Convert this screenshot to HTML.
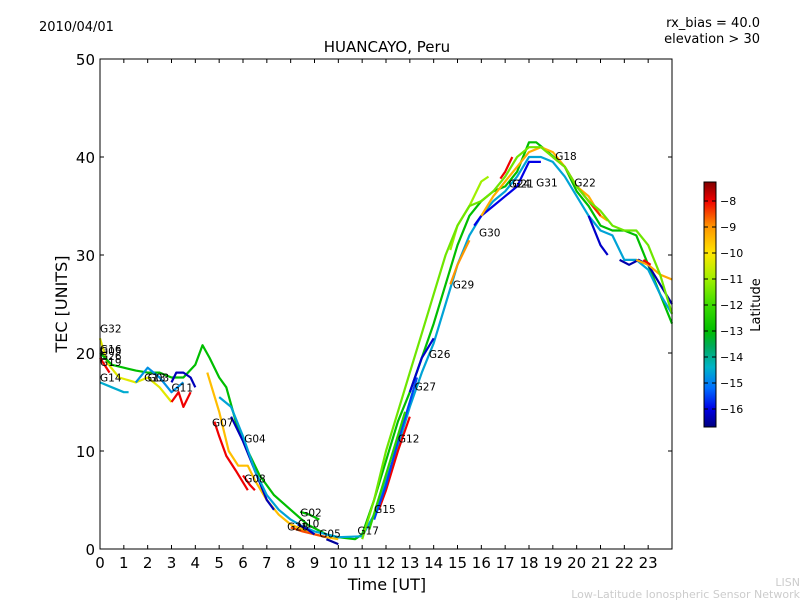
<!DOCTYPE html>
<html><head><meta charset="utf-8">
<style>
body{margin:0;background:#fff;}
svg{display:block;font-family:"DejaVu Sans","Liberation Sans",sans-serif;}
</style></head>
<body>
<svg id="chart" width="800" height="600" viewBox="0 0 800 600">
<defs>
<linearGradient id="jet" x1="0" y1="1" x2="0" y2="0"></linearGradient>
</defs>
<text x="39" y="31" font-size="13">2010/04/01</text>
<text x="760" y="27" font-size="13" text-anchor="end">rx_bias = 40.0</text>
<text x="760" y="43" font-size="13" text-anchor="end">elevation &gt; 30</text>
<text x="387" y="52" font-size="15" text-anchor="middle">HUANCAYO, Peru</text>
<g id="tracks"></g>
<g id="labels"></g>
<rect x="100" y="59" width="572" height="490" fill="none" stroke="#000" stroke-width="1"/>
<g id="axes"></g>
<text x="387" y="590" font-size="16" text-anchor="middle">Time [UT]</text>
<text transform="translate(67,304) rotate(-90)" font-size="16" text-anchor="middle">TEC [UNITS]</text>
<rect x="704" y="182" width="12" height="245" fill="url(#jet)" stroke="#000" stroke-width="1"/>
<g id="cbar"></g>
<text transform="translate(760,305) rotate(-90)" font-size="13" text-anchor="middle">Latitude</text>
<text x="800" y="586" font-size="11" fill="#ccc" text-anchor="end">LISN</text>
<text x="800" y="598" font-size="11" fill="#ccc" text-anchor="end">Low-Latitude Ionospheric Sensor Network</text>
</svg>
<script>
const xTicks=[0,1,2,3,4,5,6,7,8,9,10,11,12,13,14,15,16,17,18,19,20,21,22,23];
const yTicks=[0,10,20,30,40,50];
const cbTicks=[-8,-9,-10,-11,-12,-13,-14,-15,-16];
const trackLats=[-10.3,-13.0,-8,-14.5,-14.8,-16.3,-8,-8,-9.5,-16.3,-14.6,-8,-13.0,-8.5,-16.3,-16.5,-8,-15.5,-16.2,-9,-11,-16,-8,-9.3,-8.3,-16.2,-16.4,-9.2,-8,-11.5,-12.3];
const trackTimes=[
[0,0.3,0.8,1.5,2,2.5,3],
[0,0.5,1,1.5,2,2.5,3,3.5,4,4.3,4.6,5,5.3,5.7,6.2,6.7,7.3,8,8.7,9.5,10,10.7,11,11.5,12,12.5,13,13.5,14,14.5,15,15.5,16,16.5,17,17.5,18,18.3,18.8,19.5,20,20.5,21,21.5,22,22.5,23,23.5,24],
[0,0.4],
[0,0.5,1,1.2],
[1.5,2,2.5,3,3.5],
[3,3.2,3.5,3.8,4],
[3,3.3,3.5,3.8],
[4.8,5,5.3,5.7,6.2],
[4.5,5,5.4,5.8,6.2,6.5,7,7.5,8,8.5,9,9.5,10],
[5.5,6,6.5,7,7.3],
[5,5.5,6,6.5,7,7.5,8,8.5,9,10,11,11.5,12,12.5,13,13.5,14,14.5,15,15.5,16,16.5,17,17.5,18,18.5,19,19.5,20,20.5,21,21.5,22,22.5,23,23.5,24],
[6,6.3,6.5],
[8.4,8.8,9.2],
[8,8.5,9,9.5],
[8.3,8.7,9],
[9.5,10],
[11.7,12,12.5,13],
[11.5,12,12.5,13,13.3],
[13,13.5,14],
[14.7,15,15.5],
[14.7,15,15.5,16,16.3],
[15.7,16,16.5,17,17.5,18,18.5],
[16.8,17,17.3],
[16,16.5,17,17.5,18,18.5,19,19.5,20,20.5,21,21.3],
[19,19.5,20,20.5,21],
[20.5,21,21.3],
[21.8,22.2,22.6,23,23.5,24],
[22.5,23,23.5,24],
[22.8,23.1],
[11,11.5,12,12.5,13,13.5,14,14.5,15,15.5,16,16.5,17,17.5,18,18.5,19,19.5,20,20.5,21,21.5,22,22.5,23,23.5,24],
[11.3,11.8,12.3,12.8]
];
const trackTec=[
[21.5,19,17.5,17,17.5,16.5,15],
[20,18.8,18.5,18.2,18,18,17.5,17.5,18.8,20.8,19.5,17.5,16.5,13,10,7.5,5.5,4,2.5,1.5,1.2,1,1.5,5,9,13,16,19.5,23,27,31,34,35.5,36.5,37,38.5,41.5,41.5,40.5,39,36.5,35,33,32.5,32.5,32,29,26,23],
[19.5,18],
[17,16.5,16,16],
[17,18.5,17.5,16,17],
[17,18,18,17.5,16.5],
[15,16,14.5,16],
[13,11.5,9.5,8,6],
[18,14,10,8.5,8.5,7,5,3.5,2.5,2,1.5,1.2,1],
[13.5,11,8,5,4],
[15.5,14.5,11.5,8,5.5,4,3,2.3,1.8,1.2,1.3,3.5,7,10.5,14.5,18,21,25,29,32,34,35.5,36.5,38,40,40,39.5,38,36,34,32.5,32,29.5,29.5,28.5,26,24],
[7.5,6.5,6],
[3.8,3.5,3],
[2.2,1.8,1.5,1.2],
[2.5,2,1.5],
[1,0.5],
[4,6,10,13.5],
[3,6.5,11,15,17.5],
[16,19.5,21.5],
[27,29,31.5],
[30.5,33,35,37.5,38],
[33,34,35,36,37,39.5,39.5],
[37.8,38.5,40],
[34,36,37.5,39,40.5,41,40.5,39,37,36,34,33.5],
[40,39,37,35.5,34],
[34,31,30],
[29.5,29,29.5,29,27,25],
[29.5,29,28,27.5],
[29.5,29],
[1,5,10,14,18,22,26,30,33,35,35.5,36.5,38,40,41,41,40,39,37,35.5,34.5,33,32.5,32.5,31,28,24],
[2,6,10,14]
];
const labelNames=["G32","G16","G05","G26","G19","G14","G13","G03","G11","G07","G04","G08","G02","G28","G10","G05","G17","G15","G12","G27","G26","G29","G30","G24","G21","G31","G18","G22"];
const labelTimes=[0,0,0,0,0,0,1.85,2.0,3.0,4.7,6.05,6.05,8.4,7.85,8.3,9.2,10.8,11.5,12.5,13.2,13.8,14.8,15.9,17.15,17.3,18.3,19.1,19.9];
const labelTec=[22.5,20.4,20.2,19.7,19.1,17.5,17.5,17.5,16.5,12.9,11.3,7.2,3.7,2.3,2.6,1.6,1.9,4.1,11.3,16.6,19.9,27.0,32.3,37.3,37.3,37.4,40.1,37.4];

const X0=100,X1=672,Y0=549,Y1=59;
const xs=t=>X0+t*(X1-X0)/24;
const ys=v=>Y0-v*(Y0-Y1)/50;
const cy=l=>201+(-8-l)*26;
const NS="http://www.w3.org/2000/svg";
// colour scale matching reference colorbar (lat -> rgb)
const cLat=[-16.7,-16.0,-15.2,-14.4,-13.6,-13.0,-12.0,-11.0,-10.0,-9.0,-8.0,-7.27];
const cRGB=[[0,0,127],[0,0,230],[0,110,255],[0,180,200],[0,170,90],[0,190,0],[60,220,0],[160,240,0],[255,230,0],[255,150,0],[240,0,0],[127,0,0]];
function latColor(l){
  if(l<=cLat[0])return `rgb(${cRGB[0]})`;
  for(let i=1;i<cLat.length;i++){if(l<=cLat[i]){const f=(l-cLat[i-1])/(cLat[i]-cLat[i-1]);const c=cRGB[i-1].map((a,k)=>Math.round(a+(cRGB[i][k]-a)*f));return `rgb(${c})`;}}
  return `rgb(${cRGB[cRGB.length-1]})`;
}
const grad=document.getElementById('jet');
cLat.forEach((l,i)=>{const s=document.createElementNS(NS,'stop');s.setAttribute('offset',((l+16.7)/(9.43)).toFixed(3));s.setAttribute('stop-color',`rgb(${cRGB[i]})`);grad.appendChild(s);});
const tg=document.getElementById('tracks');
trackTimes.forEach((ts,i)=>{
  const p=document.createElementNS(NS,'polyline');
  p.setAttribute('points',ts.map((t,j)=>xs(t).toFixed(1)+','+ys(trackTec[i][j]).toFixed(1)).join(' '));
  p.setAttribute('fill','none');
  p.setAttribute('stroke',latColor(trackLats[i]));
  p.setAttribute('stroke-width','2.2');
  p.setAttribute('stroke-linejoin','round');
  
  
  tg.appendChild(p);
});
const lg=document.getElementById('labels');
labelNames.forEach((n,i)=>{
  const t=document.createElementNS(NS,'text');
  t.setAttribute('x',xs(labelTimes[i]));
  t.setAttribute('y',ys(labelTec[i])+4);
  t.setAttribute('font-size','10.5');
  t.textContent=n;
  
  
  lg.appendChild(t);
});
const ag=document.getElementById('axes');
xTicks.forEach(v=>{
  const x=xs(v);
  ag.insertAdjacentHTML('beforeend',`<line x1="${x}" y1="549" x2="${x}" y2="545" stroke="#000"/><line x1="${x}" y1="59" x2="${x}" y2="63" stroke="#000"/>`);
  const t=document.createElementNS(NS,'text');
  t.setAttribute('x',x);t.setAttribute('y',568);t.setAttribute('font-size','15');t.setAttribute('text-anchor','middle');
  t.textContent=v;
  
  
  ag.appendChild(t);
});
yTicks.forEach(v=>{
  const y=ys(v);
  ag.insertAdjacentHTML('beforeend',`<line x1="100" y1="${y}" x2="104" y2="${y}" stroke="#000"/><line x1="672" y1="${y}" x2="668" y2="${y}" stroke="#000"/>`);
  const t=document.createElementNS(NS,'text');
  t.setAttribute('x',95);t.setAttribute('y',y+6);t.setAttribute('font-size','15');t.setAttribute('text-anchor','end');
  t.textContent=v;
  
  
  ag.appendChild(t);
});
const cg=document.getElementById('cbar');
cbTicks.forEach(v=>{
  const y=cy(v);
  cg.insertAdjacentHTML('beforeend',`<line x1="704" y1="${y}" x2="708" y2="${y}" stroke="#000"/><line x1="716" y1="${y}" x2="712" y2="${y}" stroke="#000"/>`);
  const t=document.createElementNS(NS,'text');
  t.setAttribute('x',720);t.setAttribute('y',y+4);t.setAttribute('font-size','11');
  t.textContent='\u2212'+Math.abs(v);
  
  
  cg.appendChild(t);
});
</script>
</body></html>
